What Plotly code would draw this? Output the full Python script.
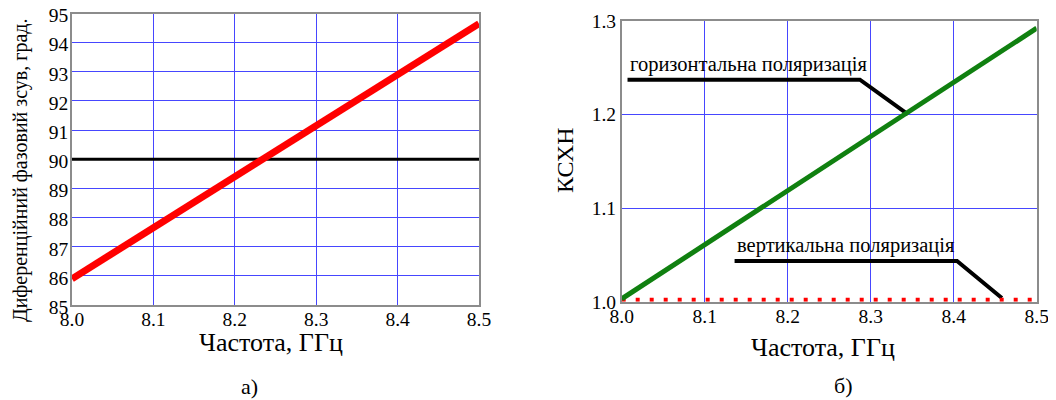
import plotly.graph_objects as go

# частота, ГГц
freq = [8.0, 8.5]

# а) диференційний фазовий зсув, град.
phase_shift = [85.9, 94.65]
phase_ref = [90.0, 90.0]

# б) КСХН
vswr_horiz = [1.003, 1.292]
vswr_vert = [1.002, 1.002]

# виноски (лінії від підписів до кривих)
lead_h_x = [8.007, 8.287, 8.345]
lead_h_y = [1.237, 1.237, 1.2]
lead_v_x = [8.136, 8.404, 8.458]
lead_v_y = [1.0435, 1.0435, 1.004]

x_ticks = [8.0, 8.1, 8.2, 8.3, 8.4, 8.5]
y1_ticks = list(range(85, 96))
y2_ticks = [1.0, 1.1, 1.2, 1.3]

FONT = "Liberation Serif"
GRID = "rgb(70,70,255)"
BORDER = "#8c8c8c"
W, H = 1056, 400
OFF = 8  # сторінка має відступ body 8px


def px(x):
    return (x - OFF) / W


def py(y):
    return 1 - (y - OFF) / H


def label(text, x, y, size, angle=0):
    return dict(text=text, x=px(x), y=py(y), xref="paper", yref="paper",
                xanchor="center", yanchor="middle", textangle=angle,
                showarrow=False, font=dict(size=size))


fig = go.Figure()

fig.add_trace(go.Scatter(x=freq, y=phase_ref, mode="lines",
                         line=dict(color="black", width=3), xaxis="x", yaxis="y"))
fig.add_trace(go.Scatter(x=freq, y=phase_shift, mode="lines",
                         line=dict(color="#ff0000", width=7), xaxis="x", yaxis="y"))

fig.add_trace(go.Scatter(x=lead_h_x, y=lead_h_y, mode="lines",
                         line=dict(color="black", width=4), xaxis="x2", yaxis="y2"))
fig.add_trace(go.Scatter(x=lead_v_x, y=lead_v_y, mode="lines",
                         line=dict(color="black", width=4), xaxis="x2", yaxis="y2"))
fig.add_trace(go.Scatter(x=freq, y=vswr_vert, mode="lines", cliponaxis=False,
                         line=dict(color="#ff0000", width=4, dash="4px,10px"),
                         xaxis="x2", yaxis="y2"))
fig.add_trace(go.Scatter(x=freq, y=vswr_horiz, mode="lines",
                         line=dict(color="#108010", width=5), xaxis="x2", yaxis="y2"))

axis_common = dict(showgrid=True, gridcolor=GRID, gridwidth=1, zeroline=False,
                   showline=True, linecolor=BORDER, linewidth=1.5, mirror=True,
                   ticks="", automargin=False, ticklabeloverflow="allow",
                   tickfont=dict(family=FONT, size=19.5, color="black"))

fig.update_layout(
    template="none",
    width=W, height=H,
    margin=dict(l=0, r=0, t=0, b=0, autoexpand=False),
    paper_bgcolor="white", plot_bgcolor="white",
    showlegend=False,
    font=dict(family=FONT, color="black"),
    xaxis=dict(domain=[px(72), px(479)], range=[8.0, 8.5], tickvals=x_ticks,
               tickformat=".1f", anchor="y", ticklabelstandoff=-4, **axis_common),
    yaxis=dict(domain=[py(305), py(13.5)], range=[85, 95], tickvals=y1_ticks,
               anchor="x", ticklabelstandoff=-2, ticklabelshift=2, **axis_common),
    xaxis2=dict(domain=[px(621.7), px(1036.7)], range=[8.0, 8.5], tickvals=x_ticks,
                tickformat=".1f", anchor="y2", ticklabelstandoff=-4, **axis_common),
    yaxis2=dict(domain=[py(301.7), py(20.7)], range=[1.0, 1.3], tickvals=y2_ticks,
                tickformat=".1f", anchor="x2", **axis_common),
    annotations=[
        label("Диференційний фазовий зсув, град.", 20, 170, 20, -90),
        label("Частота, ГГц", 271, 342, 26),
        label("а)", 249, 386, 22),
        label("КСХН", 565, 161, 24, -90),
        label("Частота, ГГц", 823, 347, 26),
        label("б)", 843, 385, 22),
        dict(text="горизонтальна поляризація", x=lead_h_x[0], y=lead_h_y[0],
             xref="x2", yref="y2", xanchor="left", yanchor="bottom", yshift=2,
             showarrow=False, font=dict(size=20.5)),
        dict(text="вертикальна поляризація", x=lead_v_x[0], y=lead_v_y[0],
             xref="x2", yref="y2", xanchor="left", yanchor="bottom", yshift=2,
             showarrow=False, font=dict(size=20.5)),
    ],
)

fig.write_html("out.html")
